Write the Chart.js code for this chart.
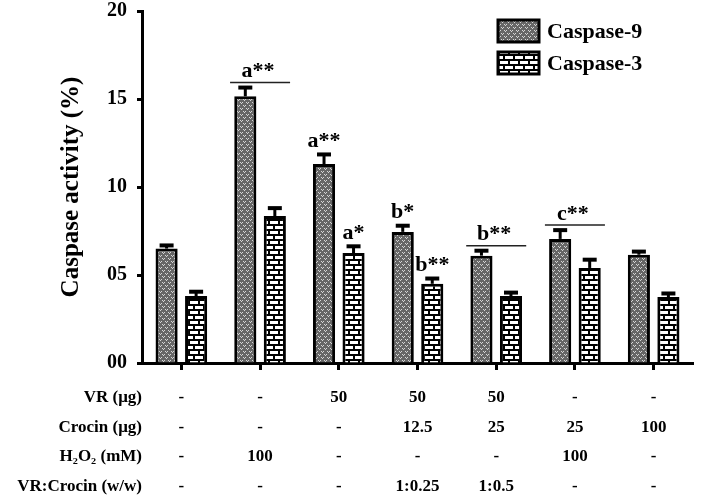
<!DOCTYPE html>
<html>
<head>
<meta charset="utf-8">
<script src="https://cdn.jsdelivr.net/npm/chart.js@4.4.0/dist/chart.umd.min.js"></script>
<style>
  body { margin: 0; background: #fff; }
  #wrap { width: 703px; height: 500px; }
</style>
</head>
<body>
<div id="wrap"><canvas id="caspaseChart"></canvas></div>
<script>
// treatment table under the x axis (one column per group)
const vrRow = ['-', '-', '50', '50', '50', '-', '-'];
const crocinRow = ['-', '-', '-', '12.5', '25', '25', '100'];
const h2o2Row = ['-', '100', '-', '-', '-', '100', '-'];
const ratioRow = ['-', '-', '-', '1:0.25', '1:0.5', '-', '-'];
const rowHeaders = ['VR (μg)', 'Crocin (μg)', 'H₂O₂ (mM)', 'VR:Crocin (w/w)'];

// values
const caspase9 = [6.5, 15.15, 11.3, 7.45, 6.1, 7.05, 6.15];
const caspase9Err = [0.18, 0.5, 0.55, 0.35, 0.28, 0.5, 0.18];
const caspase3 = [3.8, 8.35, 6.25, 4.5, 3.8, 5.4, 3.75];
const caspase3Err = [0.25, 0.45, 0.38, 0.3, 0.2, 0.47, 0.2];

// significance letters
const groupMarks = ['', 'a**', '', '', 'b**', 'c**', ''];
const caspase9Marks = ['', '', 'a**', 'b*', '', '', ''];
const caspase3Marks = ['', '', 'a*', 'b**', '', '', ''];

const serif = '"Liberation Serif", "Times New Roman", serif';
const tableLine = 29.5;
const tableTickLen = 7;
const tablePad = 13;

// gray fill with small light "v" dots
function makeDotPattern() {
    const c = document.createElement('canvas');
    c.width = 6; c.height = 6;
    const g = c.getContext('2d');
    g.fillStyle = '#666';
    g.fillRect(0, 0, 6, 6);
    g.fillStyle = '#d6d6d6';
    g.fillRect(0, 0, 1, 1); g.fillRect(2, 0, 1, 1); g.fillRect(1, 1, 1, 1);
    g.fillRect(3, 3, 1, 1); g.fillRect(5, 3, 1, 1); g.fillRect(4, 4, 1, 1);
    return g.createPattern(c, 'repeat');
}

// white bricks with black mortar
function makeBrickPattern() {
    const c = document.createElement('canvas');
    c.width = 10; c.height = 10;
    const g = c.getContext('2d');
    g.fillStyle = '#000';
    g.fillRect(0, 0, 10, 10);
    g.fillStyle = '#fff';
    g.fillRect(0, 1, 8, 3);
    g.fillRect(0, 6, 3, 3);
    g.fillRect(5, 6, 5, 3);
    return g.createPattern(c, 'repeat');
}

const dotFill = makeDotPattern();
const brickFill = makeBrickPattern();

const labels = vrRow.map((v, i) => [v, crocinRow[i], h2o2Row[i], ratioRow[i]]);

// whiskers (upper half only, like the figure)
const errorBars = {
    id: 'errorBars',
    afterDatasetsDraw(chart) {
        const { ctx, scales: { y } } = chart;
        ctx.save();
        ctx.strokeStyle = '#000';
        chart.data.datasets.forEach((ds, di) => {
            chart.getDatasetMeta(di).data.forEach((bar, i) => {
                const top = y.getPixelForValue(ds.data[i] + ds.errors[i]);
                ctx.lineWidth = 3;
                ctx.beginPath();
                ctx.moveTo(bar.x, bar.y);
                ctx.lineTo(bar.x, top);
                ctx.stroke();
                ctx.lineWidth = 4;
                ctx.beginPath();
                ctx.moveTo(bar.x - 7, top);
                ctx.lineTo(bar.x + 7, top);
                ctx.stroke();
            });
        });
        ctx.restore();
    }
};

// letters over bars and over groups
const sigMarks = {
    id: 'sigMarks',
    afterDatasetsDraw(chart) {
        const { ctx, scales: { x, y } } = chart;
        const ds = chart.data.datasets;
        const capY = (di, i) => y.getPixelForValue(ds[di].data[i] + ds[di].errors[i]);
        ctx.save();
        ctx.fillStyle = '#000';
        ctx.font = 'bold 22px ' + serif;
        ctx.textAlign = 'center';
        ctx.textBaseline = 'middle';
        const perBar = [caspase9Marks, caspase3Marks];
        perBar.forEach((marks, di) => {
            const meta = chart.getDatasetMeta(di);
            marks.forEach((m, i) => {
                if (!m) return;
                ctx.fillText(m, meta.data[i].x, capY(di, i) - 13);
            });
        });
        groupMarks.forEach((m, i) => {
            if (!m) return;
            const cx = x.getPixelForValue(i);
            const lineY = Math.min(capY(0, i), capY(1, i)) - 5;
            ctx.strokeStyle = '#222';
            ctx.lineWidth = 1.5;
            ctx.beginPath();
            ctx.moveTo(cx - 30, lineY);
            ctx.lineTo(cx + 30, lineY);
            ctx.stroke();
            ctx.fillText(m, cx - 2, lineY - 11);
        });
        ctx.restore();
    }
};

// row names of the treatment table
const rowNames = {
    id: 'rowNames',
    afterDraw(chart) {
        const { ctx, scales: { x } } = chart;
        ctx.save();
        ctx.fillStyle = '#000';
        ctx.font = 'bold 17px ' + serif;
        ctx.textAlign = 'right';
        ctx.textBaseline = 'middle';
        const y0 = x.top + tableTickLen + tablePad + tableLine / 2;
        rowHeaders.forEach((h, r) => {
            ctx.fillText(h, chart.chartArea.left, y0 + r * tableLine);
        });
        ctx.restore();
    }
};

// legend box in the top right
const boxLegend = {
    id: 'boxLegend',
    afterDraw(chart) {
        const { ctx } = chart;
        ctx.save();
        ctx.font = 'bold 22px ' + serif;
        ctx.textBaseline = 'middle';
        chart.data.datasets.forEach((ds, i) => {
            const top = 20 + i * 32;
            ctx.fillStyle = ds.backgroundColor;
            ctx.fillRect(498, top, 41, 22);
            ctx.strokeStyle = '#000';
            ctx.lineWidth = 3;
            ctx.strokeRect(498, top, 41, 22);
            ctx.fillStyle = '#000';
            ctx.fillText(ds.label, 547, top + 12);
        });
        ctx.restore();
    }
};

const ctx = document.getElementById('caspaseChart').getContext('2d');
new Chart(ctx, {
    type: 'bar',
    data: {
        labels: labels,
        datasets: [{
            label: 'Caspase-9',
            data: caspase9,
            errors: caspase9Err,
            backgroundColor: dotFill,
            borderColor: '#000',
            borderWidth: 3
        }, {
            label: 'Caspase-3',
            data: caspase3,
            errors: caspase3Err,
            backgroundColor: brickFill,
            borderColor: '#000',
            borderWidth: 3
        }]
    },
    options: {
        responsive: true,
        maintainAspectRatio: false,
        animation: false,
        layout: { padding: { left: 0, top: 0, right: 10, bottom: -14 } },
        datasets: { bar: { categoryPercentage: 0.75, barPercentage: 0.75 } },
        plugins: {
            legend: { display: false },
            tooltip: { enabled: false }
        },
        scales: {
            x: {
                offset: true,
                grid: {
                    offset: false,
                    drawOnChartArea: false,
                    tickLength: tableTickLen,
                    tickWidth: 3,
                    tickColor: '#000'
                },
                border: { color: '#000', width: 3 },
                ticks: {
                    color: '#000',
                    padding: tablePad,
                    maxRotation: 0,
                    minRotation: 0,
                    autoSkip: false,
                    font: { family: serif, size: 17, weight: 'bold', lineHeight: tableLine + 'px' }
                }
            },
            y: {
                min: 0,
                max: 20,
                grid: {
                    drawOnChartArea: false,
                    tickLength: 5,
                    tickWidth: 3,
                    tickColor: '#000'
                },
                border: { color: '#000', width: 3 },
                ticks: {
                    stepSize: 5,
                    color: '#000',
                    padding: 10,
                    font: { family: serif, size: 20, weight: 'bold', lineHeight: 0.1 },
                    callback: v => String(v).padStart(2, '0')
                },
                title: {
                    display: true,
                    text: 'Caspase activity (%)',
                    color: '#000',
                    padding: { top: 57, bottom: 10 },
                    font: { family: serif, size: 25, weight: 'bold' }
                }
            }
        }
    },
    plugins: [errorBars, sigMarks, rowNames, boxLegend]
});
</script>
</body>
</html>
